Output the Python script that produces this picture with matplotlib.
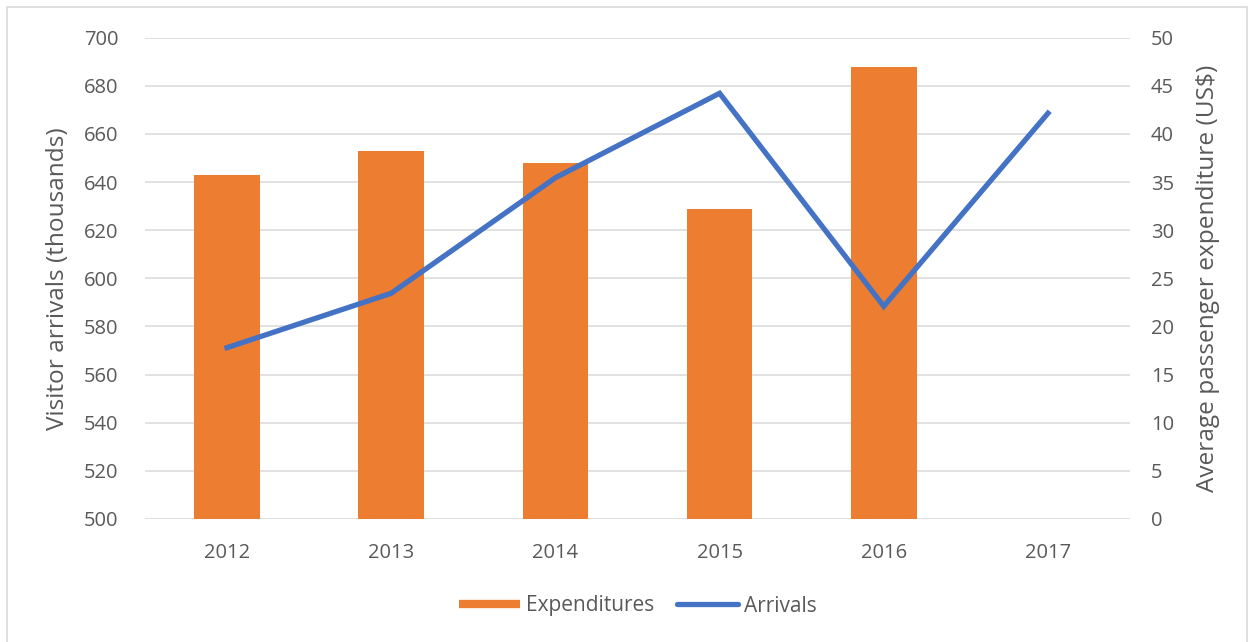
"""
Visitor arrivals vs average passenger expenditure, combo bar/line chart.
"""
import matplotlib
matplotlib.use('Agg')
import matplotlib.pyplot as plt
import matplotlib.patches as mpatches
from matplotlib.lines import Line2D
import numpy as np

years = ['2012', '2013', '2014', '2015', '2016', '2017']
expenditures = [35.7, 38.2, 37.0, 32.2, 47.0, None]   # US$, right axis
arrivals = [571.2, 593.8, 641.8, 676.9, 588.4, 668.6]   # thousands, left axis

left_ticks = list(range(500, 701, 20))
right_ticks = list(range(0, 51, 5))

ORANGE = '#ED7D31'
BLUE = '#4472C4'
GRID = '#D9D9D9'
TXT = '#595959'

plt.rcParams['font.family'] = ['Open Sans', 'DejaVu Sans']

fig = plt.figure(figsize=(12.52, 6.42), dpi=100)
ax = fig.add_axes([0.1158, 0.1916, 0.9026 - 0.1158, 0.9413 - 0.1916])
ax2 = ax.twinx()

x = np.arange(len(years))

# bars on the secondary axis, line on the primary axis drawn on top
bar_x = [i for i, v in enumerate(expenditures) if v is not None]
bar_v = [v for v in expenditures if v is not None]
ax2.bar(bar_x, bar_v, width=0.40, color=ORANGE, zorder=2)
ax2.set_ylim(0, 50)
ax2.set_yticks(right_ticks)
ax2.yaxis.grid(True, color=GRID, linewidth=1.1, zorder=0)
ax2.set_axisbelow(True)

ax.plot(x, arrivals, color=BLUE, linewidth=3.8, solid_joinstyle='miter', zorder=3)
ax.set_ylim(500, 700)
ax.set_yticks(left_ticks)
ax.set_xlim(-0.5, len(years) - 0.5)
ax.set_xticks(x)
ax.set_xticklabels(years)

ax.set_zorder(ax2.get_zorder() + 1)
ax.patch.set_visible(False)

for a in (ax, ax2):
    for s in a.spines.values():
        s.set_visible(False)
    a.tick_params(axis='both', length=0, labelsize=14.5, labelcolor=TXT)

ax.tick_params(axis='y', pad=19)
ax2.tick_params(axis='y', pad=15)
ax.tick_params(axis='x', labelsize=14.5, pad=17)

ax.set_ylabel('Visitor arrivals (thousands)', fontsize=17.6, color=TXT, labelpad=10)
ax2.set_ylabel('Average passenger expenditure (US$)', fontsize=17.6, color=TXT, labelpad=16)

handles = [Line2D([0], [0], color=ORANGE, linewidth=6, solid_capstyle='butt', label='Expenditures'),
           Line2D([0], [0], color=BLUE, linewidth=3.8, solid_capstyle='round', label='Arrivals')]
fig.legend(handles=handles, loc='center', bbox_to_anchor=(638 / 1252, 1 - 606 / 642), ncol=2,
           frameon=False, fontsize=15, labelcolor=TXT, handlelength=2.9,
           handletextpad=0.3, columnspacing=1.1)

# chart frame
fig.patches.append(mpatches.Rectangle((7 / 1252, -0.05), 1 - 12 / 1252, 1.05 - 7 / 642,
                                      transform=fig.transFigure, fill=False,
                                      edgecolor='#D9D9D9', linewidth=1.2))

fig.savefig('out.png', dpi=100)
